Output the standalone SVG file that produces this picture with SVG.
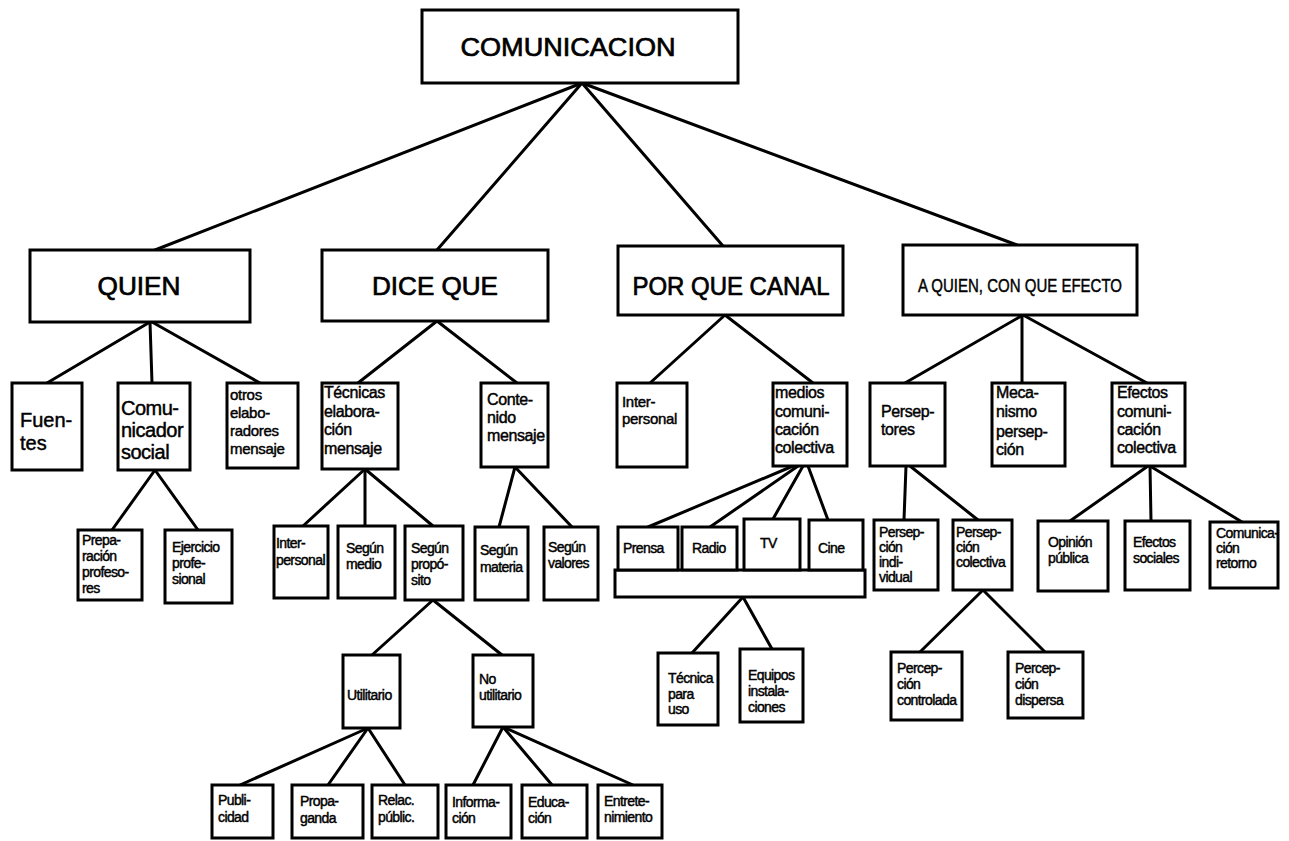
<svg xmlns="http://www.w3.org/2000/svg" width="1289" height="841" viewBox="0 0 1289 841">
<style>
rect.b{fill:#fff;stroke:#000;stroke-width:3}
#connectors line{stroke:#000;stroke-width:3;stroke-linecap:round}
text{font-family:"Liberation Sans",Arial,sans-serif;fill:#000;stroke:#000;stroke-width:0.45px}
.h1{font-size:26px;stroke-width:0.7px}
.h2{font-size:25px;stroke-width:0.7px}
.l20{font-size:20px;letter-spacing:-0.5px}
.l15{font-size:15px;letter-spacing:-0.3px}
.l16{font-size:16px;letter-spacing:-0.4px}
.l14{font-size:14px;letter-spacing:-0.6px}
</style>
<rect width="1289" height="841" fill="#fff" stroke="none"/>
<g id="connectors">
<line x1="582" y1="83" x2="155" y2="250"/>
<line x1="582" y1="83" x2="437" y2="250"/>
<line x1="582" y1="83" x2="723" y2="246"/>
<line x1="582" y1="83" x2="1017" y2="245"/>
<line x1="150" y1="322" x2="47" y2="383"/>
<line x1="150" y1="322" x2="152" y2="383"/>
<line x1="152" y1="322" x2="260" y2="383"/>
<line x1="155" y1="470" x2="112" y2="530"/>
<line x1="155" y1="470" x2="198" y2="530"/>
<line x1="437" y1="321" x2="358" y2="383"/>
<line x1="437" y1="321" x2="517" y2="383"/>
<line x1="365" y1="469" x2="303" y2="526"/>
<line x1="365" y1="469" x2="365" y2="526"/>
<line x1="365" y1="469" x2="433" y2="526"/>
<line x1="515" y1="467" x2="499" y2="527"/>
<line x1="515" y1="467" x2="572" y2="527"/>
<line x1="433" y1="600" x2="372" y2="655"/>
<line x1="433" y1="600" x2="502" y2="655"/>
<line x1="368" y1="728" x2="240" y2="785"/>
<line x1="368" y1="728" x2="328" y2="785"/>
<line x1="368" y1="728" x2="405" y2="785"/>
<line x1="503" y1="727" x2="473" y2="785"/>
<line x1="503" y1="727" x2="552" y2="785"/>
<line x1="503" y1="727" x2="633" y2="785"/>
<line x1="725" y1="315" x2="650" y2="383"/>
<line x1="725" y1="315" x2="813" y2="383"/>
<line x1="793" y1="466" x2="648" y2="527"/>
<line x1="798" y1="466" x2="710" y2="527"/>
<line x1="803" y1="466" x2="773" y2="519"/>
<line x1="808" y1="466" x2="828" y2="520"/>
<line x1="743" y1="597" x2="692" y2="653"/>
<line x1="743" y1="597" x2="772" y2="649"/>
<line x1="1023" y1="315" x2="905" y2="383"/>
<line x1="1022" y1="315" x2="1022" y2="383"/>
<line x1="1023" y1="315" x2="1147" y2="383"/>
<line x1="906" y1="466" x2="904" y2="520"/>
<line x1="910" y1="466" x2="978" y2="520"/>
<line x1="983" y1="590" x2="920" y2="652"/>
<line x1="983" y1="590" x2="1045" y2="652"/>
<line x1="1148" y1="466" x2="1070" y2="521"/>
<line x1="1150" y1="466" x2="1151" y2="521"/>
<line x1="1150" y1="466" x2="1242" y2="522"/>
</g>
<g id="comunicacion"><rect class="b" x="422" y="10" width="316" height="73"/><text class="h1" x="568" y="56" text-anchor="middle" textLength="215" lengthAdjust="spacingAndGlyphs">COMUNICACION</text></g>
<g id="quien"><rect class="b" x="30" y="250" width="220" height="72"/><text class="h2" x="139" y="295" text-anchor="middle" textLength="83" lengthAdjust="spacingAndGlyphs">QUIEN</text></g>
<g id="dice-que"><rect class="b" x="322" y="250" width="226" height="71"/><text class="h2" x="435" y="295" text-anchor="middle" textLength="126" lengthAdjust="spacingAndGlyphs">DICE QUE</text></g>
<g id="por-que-canal"><rect class="b" x="618" y="246" width="225" height="69"/><text class="h2" x="731" y="295" text-anchor="middle" textLength="197" lengthAdjust="spacingAndGlyphs">POR QUE CANAL</text></g>
<g id="a-quien"><rect class="b" x="903" y="245" width="234" height="70"/><text x="1020" y="292" font-size="19" text-anchor="middle" textLength="204" lengthAdjust="spacingAndGlyphs">A QUIEN, CON QUE EFECTO</text></g>
<g id="fuentes"><rect class="b" x="12" y="383" width="70" height="87"/><text font-size="20" x="20"><tspan x="20" y="427">Fuen-</tspan><tspan x="20" y="450">tes</tspan></text></g>
<g id="comunicador"><rect class="b" x="118" y="383" width="72" height="87"/><text class="l20"><tspan x="121" y="415">Comu-</tspan><tspan x="121" y="437">nicador</tspan><tspan x="121" y="459">social</tspan></text></g>
<g id="otros"><rect class="b" x="227" y="383" width="71" height="85"/><text class="l15"><tspan x="230" y="400">otros</tspan><tspan x="230" y="418">elabo-</tspan><tspan x="230" y="436">radores</tspan><tspan x="230" y="454">mensaje</tspan></text></g>
<g id="preparacion"><rect class="b" x="78" y="530" width="64" height="70"/><text class="l14"><tspan x="82" y="545">Prepa-</tspan><tspan x="82" y="561">ración</tspan><tspan x="82" y="577">profeso-</tspan><tspan x="82" y="593">res</tspan></text></g>
<g id="ejercicio"><rect class="b" x="165" y="530" width="67" height="73"/><text class="l14"><tspan x="172" y="552">Ejercicio</tspan><tspan x="172" y="568">profe-</tspan><tspan x="172" y="584">sional</tspan></text></g>
<g id="tecnicas"><rect class="b" x="322" y="383" width="76" height="86"/><text class="l16"><tspan x="324" y="398">Técnicas</tspan><tspan x="324" y="417">elabora-</tspan><tspan x="324" y="435">ción</tspan><tspan x="324" y="454">mensaje</tspan></text></g>
<g id="contenido"><rect class="b" x="481" y="383" width="67" height="84"/><text class="l16"><tspan x="487" y="405">Conte-</tspan><tspan x="487" y="423">nido</tspan><tspan x="487" y="441">mensaje</tspan></text></g>
<g id="interpersonal-1"><rect class="b" x="274" y="526" width="54" height="72"/><text class="l14"><tspan x="276" y="548">Inter-</tspan><tspan x="276" y="565">personal</tspan></text></g>
<g id="segun-medio"><rect class="b" x="338" y="526" width="57" height="72"/><text class="l14"><tspan x="346" y="553">Según</tspan><tspan x="346" y="569">medio</tspan></text></g>
<g id="segun-proposito"><rect class="b" x="405" y="526" width="58" height="74"/><text class="l14"><tspan x="411" y="553">Según</tspan><tspan x="411" y="569">propó-</tspan><tspan x="411" y="585">sito</tspan></text></g>
<g id="segun-materia"><rect class="b" x="475" y="527" width="53" height="73"/><text class="l14"><tspan x="480" y="555">Según</tspan><tspan x="480" y="572">materia</tspan></text></g>
<g id="segun-valores"><rect class="b" x="544" y="527" width="54" height="73"/><text class="l14"><tspan x="548" y="552">Según</tspan><tspan x="548" y="568">valores</tspan></text></g>
<g id="utilitario"><rect class="b" x="343" y="655" width="57" height="73"/><text class="l14" x="347" y="700">Utilitario</text></g>
<g id="no-utilitario"><rect class="b" x="473" y="655" width="60" height="72"/><text class="l14"><tspan x="479" y="684">No</tspan><tspan x="479" y="700">utilitario</tspan></text></g>
<g id="publicidad"><rect class="b" x="212" y="785" width="61" height="53"/><text class="l14"><tspan x="218" y="805">Publi-</tspan><tspan x="218" y="822">cidad</tspan></text></g>
<g id="propaganda"><rect class="b" x="292" y="785" width="71" height="53"/><text class="l14"><tspan x="300" y="806">Propa-</tspan><tspan x="300" y="823">ganda</tspan></text></g>
<g id="relac"><rect class="b" x="372" y="785" width="66" height="53"/><text class="l14"><tspan x="378" y="805">Relac.</tspan><tspan x="378" y="822">públic.</tspan></text></g>
<g id="informacion"><rect class="b" x="446" y="785" width="65" height="53"/><text class="l14"><tspan x="452" y="807">Informa-</tspan><tspan x="452" y="823">ción</tspan></text></g>
<g id="educacion"><rect class="b" x="522" y="785" width="65" height="53"/><text class="l14"><tspan x="528" y="807">Educa-</tspan><tspan x="528" y="823">ción</tspan></text></g>
<g id="entretenimiento"><rect class="b" x="598" y="785" width="64" height="53"/><text class="l14"><tspan x="604" y="806">Entrete-</tspan><tspan x="604" y="822">nimiento</tspan></text></g>
<g id="interpersonal-2"><rect class="b" x="617" y="383" width="70" height="84"/><text class="l15"><tspan x="622" y="407">Inter-</tspan><tspan x="622" y="424">personal</tspan></text></g>
<g id="medios"><rect class="b" x="773" y="383" width="74" height="83"/><text class="l16"><tspan x="775" y="398">medios</tspan><tspan x="775" y="417">comuni-</tspan><tspan x="775" y="435">cación</tspan><tspan x="775" y="453">colectiva</tspan></text></g>
<g id="base-medios"><rect class="b" x="615" y="570" width="250" height="27"/></g>
<g id="prensa"><rect class="b" x="618" y="527" width="60" height="43"/><text class="l14" x="623" y="553">Prensa</text></g>
<g id="radio"><rect class="b" x="682" y="527" width="55" height="43"/><text class="l14" x="692" y="553">Radio</text></g>
<g id="tv"><rect class="b" x="744" y="519" width="56" height="51"/><text class="l14" x="760" y="548">TV</text></g>
<g id="cine"><rect class="b" x="809" y="520" width="54" height="50"/><text class="l14" x="818" y="553">Cine</text></g>
<g id="tecnica-uso"><rect class="b" x="658" y="653" width="60" height="72"/><text class="l14"><tspan x="668" y="683">Técnica</tspan><tspan x="668" y="699">para</tspan><tspan x="668" y="714">uso</tspan></text></g>
<g id="equipos"><rect class="b" x="740" y="649" width="63" height="73"/><text class="l14"><tspan x="748" y="680">Equipos</tspan><tspan x="748" y="696">instala-</tspan><tspan x="748" y="712">ciones</tspan></text></g>
<g id="perseptores"><rect class="b" x="870" y="383" width="75" height="83"/><text class="l16"><tspan x="881" y="417">Persep-</tspan><tspan x="881" y="435">tores</tspan></text></g>
<g id="mecanismo"><rect class="b" x="992" y="383" width="73" height="83"/><text class="l16"><tspan x="996" y="398">Meca-</tspan><tspan x="996" y="417">nismo</tspan><tspan x="996" y="437">persep-</tspan><tspan x="996" y="455">ción</tspan></text></g>
<g id="efectos"><rect class="b" x="1112" y="383" width="73" height="83"/><text class="l16"><tspan x="1117" y="398">Efectos</tspan><tspan x="1117" y="417">comuni-</tspan><tspan x="1117" y="435">cación</tspan><tspan x="1117" y="453">colectiva</tspan></text></g>
<g id="persepcion-individual"><rect class="b" x="874" y="520" width="64" height="70"/><text class="l14"><tspan x="879" y="537">Persep-</tspan><tspan x="879" y="552">ción</tspan><tspan x="879" y="567">indi-</tspan><tspan x="879" y="582">vidual</tspan></text></g>
<g id="persepcion-colectiva"><rect class="b" x="953" y="520" width="59" height="70"/><text class="l14"><tspan x="956" y="537">Persep-</tspan><tspan x="956" y="552">ción</tspan><tspan x="956" y="567">colectiva</tspan></text></g>
<g id="percepcion-controlada"><rect class="b" x="891" y="652" width="71" height="68"/><text class="l14"><tspan x="897" y="673">Percep-</tspan><tspan x="897" y="689">ción</tspan><tspan x="897" y="705">controlada</tspan></text></g>
<g id="percepcion-dispersa"><rect class="b" x="1008" y="652" width="75" height="66"/><text class="l14"><tspan x="1015" y="673">Percep-</tspan><tspan x="1015" y="689">ción</tspan><tspan x="1015" y="705">dispersa</tspan></text></g>
<g id="opinion"><rect class="b" x="1038" y="521" width="70" height="70"/><text class="l14"><tspan x="1048" y="547">Opinión</tspan><tspan x="1048" y="563">pública</tspan></text></g>
<g id="efectos-sociales"><rect class="b" x="1125" y="521" width="65" height="69"/><text class="l14"><tspan x="1133" y="547">Efectos</tspan><tspan x="1133" y="563">sociales</tspan></text></g>
<g id="comunicacion-retorno"><rect class="b" x="1210" y="522" width="68" height="66"/><text class="l14"><tspan x="1216" y="538">Comunica-</tspan><tspan x="1216" y="553">ción</tspan><tspan x="1216" y="568">retorno</tspan></text></g>
</svg>
